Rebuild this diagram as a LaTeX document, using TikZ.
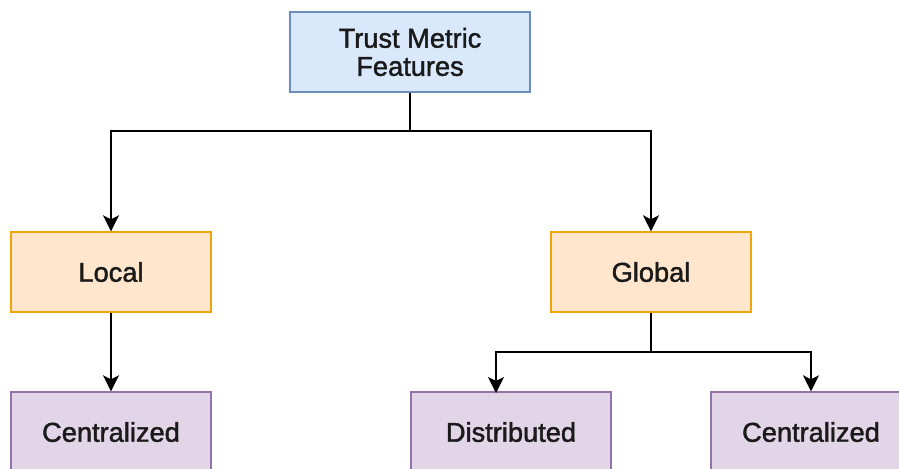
\documentclass[tikz,border=0pt]{standalone}
\usepackage{fontspec}
\setmainfont{Liberation Sans}
\newfontfamily\boxfont{Liberation Sans}[FakeBold=1.6]
\usetikzlibrary{arrows.meta}

\definecolor{topfill}{HTML}{DAE8FC}
\definecolor{topline}{HTML}{6C8EBF}
\definecolor{midfill}{HTML}{FFE6CC}
\definecolor{midline}{HTML}{F0A30A}
\definecolor{lowfill}{HTML}{E1D5E7}
\definecolor{lowline}{HTML}{9673A6}
\definecolor{inktext}{HTML}{1A1A1A}

\begin{document}
\begin{tikzpicture}
  [x=0.02cm, y=-0.02cm,
    every node/.style={rectangle, draw, line width=0.8pt, minimum width=4cm, minimum height=1.6cm,
      inner sep=2pt, align=center, text=inktext, font=\boxfont\fontsize{15.5}{16}\selectfont},
    rootbox/.style={fill=topfill, draw=topline, minimum width=4.8cm},
    levelbox/.style={fill=midfill, draw=midline},
    leafbox/.style={fill=lowfill, draw=lowline},
    link/.style={line width=1.1pt, -{Stealth[length=0.32cm, width=0.32cm, inset=0.08cm]}},
]
\useasboundingbox (0,0) rectangle (899,468);
\clip (0,0) rectangle (899,468);

\node[rootbox] (trust) at (410,52) {Trust Metric\\Features};

\node[levelbox] (local) at (111,272) {Local};
\node[levelbox] (global) at (651,272) {Global};

\node[leafbox] (localcent) at (111,432) {Centralized};
\node[leafbox] (globaldist) at (511,432) {Distributed};
\node[leafbox] (globalcent) at (811,432) {Centralized};

% split points
\coordinate (trustsplit) at (410,131);
\coordinate (globalsplit) at (651,352);
\coordinate (distin) at (496,393);

\draw[link] (trust.south) -- (trustsplit) -| (local.north);
\draw[link] (trustsplit) -| (global.north);
\draw[link] (local.south) -- (localcent.north);
\draw[link] (global.south) -- (globalsplit) -| (distin);
\draw[link] (globalsplit) -| (globalcent.north);
\end{tikzpicture}
\end{document}
